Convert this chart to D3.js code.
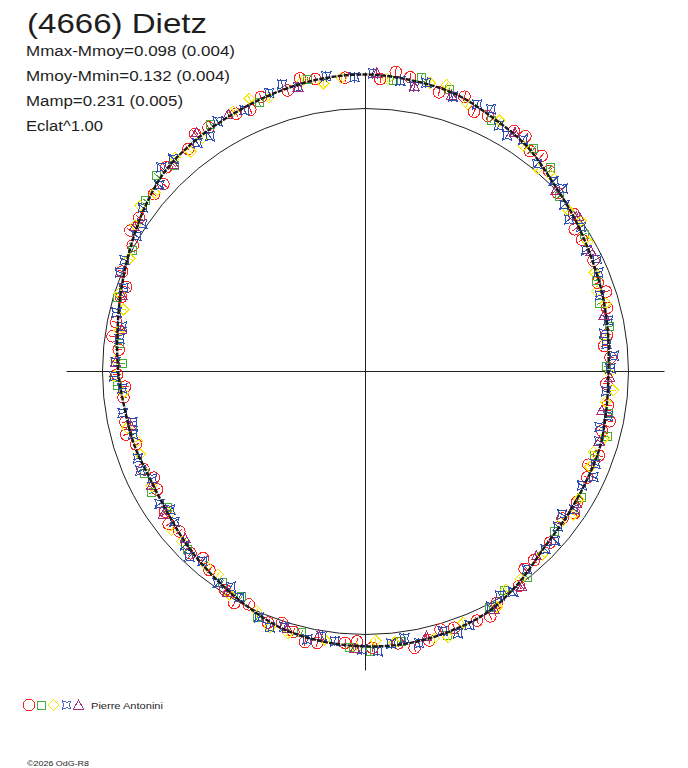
<!DOCTYPE html>
<html>
<head>
<meta charset="utf-8">
<script src="https://cdn.jsdelivr.net/npm/d3@7"></script>
<style>
  body { margin: 0; background: #fff; }
  text { font-family: "Liberation Sans", Arial, sans-serif; fill: #1e1e1e; }
</style>
</head>
<body>
<svg id="chart" width="688" height="768"></svg>
<script>
// title and info lines
var title = "(4666) Dietz";
var infoLines = ["Mmax-Mmoy=0.098 (0.004)", "Mmoy-Mmin=0.132 (0.004)", "Mamp=0.231 (0.005)", "Eclat^1.00"];
var observer = "Pierre Antonini";
var footer = "\u00a92026 OdG-R8";

// fitted lightcurve, mag relative to mean, vs rotational phase
var fitPhase = [0.000, 0.025, 0.050, 0.075, 0.100, 0.125, 0.150, 0.175, 0.200, 0.225,
                0.250, 0.275, 0.300, 0.325, 0.350, 0.375, 0.400, 0.425, 0.450, 0.475,
                0.500, 0.525, 0.550, 0.575, 0.600, 0.625, 0.650, 0.675, 0.700, 0.725,
                0.750, 0.775, 0.800, 0.825, 0.850, 0.875, 0.900, 0.925, 0.950, 0.975];
var fitMag = [-0.132, -0.124, -0.112, -0.082, -0.055, -0.012, 0.017, 0.042, 0.059, 0.075,
              0.086, 0.082, 0.071, 0.070, 0.064, 0.050, 0.008, -0.028, -0.041, -0.049,
              -0.048, -0.042, -0.029, 0.001, 0.031, 0.057, 0.084, 0.096, 0.088, 0.083,
              0.067, 0.050, 0.024, -0.008, -0.046, -0.081, -0.095, -0.105, -0.117, -0.128];

// observations (one array pair per session)
var redPhase = [0.008, 0.024, 0.041, 0.055, 0.071, 0.088, 0.102, 0.118, 0.131, 0.147, 0.163, 0.178, 0.192, 0.209, 0.226, 0.241,
                0.258, 0.272, 0.289, 0.305, 0.321, 0.338, 0.352, 0.369, 0.384, 0.401, 0.418, 0.433, 0.447, 0.463, 0.481, 0.496,
                0.512, 0.528, 0.543, 0.559, 0.574, 0.591, 0.606, 0.622, 0.637, 0.653, 0.668, 0.684, 0.701, 0.717, 0.733, 0.748,
                0.764, 0.781, 0.797, 0.812, 0.829, 0.845, 0.861, 0.877, 0.893, 0.909, 0.926, 0.942, 0.957, 0.973, 0.989,
                0.016, 0.063, 0.095, 0.109, 0.155, 0.199, 0.233, 0.282, 0.313, 0.345, 0.392, 0.425, 0.455, 0.472, 0.505,
                0.535, 0.551, 0.582, 0.614, 0.645, 0.676, 0.709, 0.740, 0.772, 0.804, 0.836, 0.869, 0.901, 0.934, 0.965];
var redMag = [-0.117, -0.134, -0.101, -0.114, -0.081, -0.078, -0.048, -0.036, 0.003, 0.008, 0.040, 0.040, 0.061, 0.056, 0.080, 0.075,
              0.094, 0.078, 0.082, 0.063, 0.074, 0.061, 0.073, 0.048, 0.042, -0.003, -0.013, -0.040, -0.033, -0.054, -0.044, -0.054,
              -0.037, -0.051, -0.029, -0.026, 0.010, 0.014, 0.044, 0.045, 0.075, 0.078, 0.102, 0.088, 0.096, 0.075, 0.084, 0.062,
              0.065, 0.037, 0.032, 0.000, -0.007, -0.043, -0.052, -0.088, -0.085, -0.107, -0.100, -0.120, -0.112, -0.131, -0.123,
              -0.147, -0.074, -0.085, -0.062, 0.042, 0.040, 0.099, 0.059, 0.092, 0.045, 0.040, -0.048, -0.023, -0.070, -0.029,
              -0.057, -0.008, -0.013, 0.066, 0.059, 0.114, 0.066, 0.095, 0.032, 0.039, -0.045, -0.051, -0.115, -0.091, -0.144];

var greenPhase = [0.015, 0.046, 0.074, 0.103, 0.133, 0.161, 0.190, 0.221, 0.247, 0.277, 0.306, 0.334, 0.362, 0.394, 0.423, 0.452, 0.479,
                  0.509, 0.538, 0.566, 0.595, 0.625, 0.654, 0.681, 0.711, 0.741, 0.768, 0.796, 0.826, 0.855, 0.881, 0.911, 0.940, 0.969,
                  0.030, 0.117, 0.205, 0.292, 0.410, 0.497, 0.580, 0.668, 0.755, 0.870];
var greenMag = [-0.115, -0.123, -0.071, -0.064, 0.008, 0.018, 0.064, 0.063, 0.096, 0.071, 0.084, 0.057, 0.067, 0.006, -0.015, -0.053, -0.037,
                -0.056, -0.024, -0.022, 0.035, 0.046, 0.098, 0.084, 0.097, 0.061, 0.065, 0.017, 0.002, -0.063, -0.073, -0.111, -0.102, -0.133,
                -0.142, -0.051, 0.082, 0.054, 0.013, -0.068, 0.027, 0.073, 0.086, -0.094];

var yellowPhase = [0.012, 0.035, 0.058, 0.078, 0.097, 0.121, 0.143, 0.166, 0.185, 0.206, 0.229, 0.251, 0.270, 0.293, 0.314, 0.336,
                   0.355, 0.378, 0.398, 0.419, 0.441, 0.460, 0.483, 0.505, 0.524, 0.546, 0.568, 0.587, 0.609, 0.631, 0.650, 0.672,
                   0.694, 0.713, 0.736, 0.757, 0.776, 0.799, 0.821, 0.840, 0.862, 0.884, 0.903, 0.925, 0.946, 0.966, 0.987,
                   0.044, 0.112, 0.153, 0.197, 0.262, 0.304, 0.346, 0.409, 0.452, 0.494, 0.557, 0.600, 0.641, 0.703, 0.747,
                   0.790, 0.851, 0.893, 0.936, 0.977];
var yellowMag = [-0.119, -0.127, -0.092, -0.085, -0.050, -0.028, 0.016, 0.023, 0.057, 0.056, 0.087, 0.081, 0.090, 0.065, 0.081, 0.061,
                 0.069, 0.035, 0.017, -0.027, -0.027, -0.051, -0.039, -0.056, -0.034, -0.041, 0.000, 0.007, 0.050, 0.054, 0.092, 0.087,
                 0.100, 0.078, 0.085, 0.052, 0.057, 0.019, 0.006, -0.039, -0.053, -0.093, -0.087, -0.113, -0.108, -0.133, -0.122,
                 -0.135, -0.012, 0.000, 0.077, 0.062, 0.091, 0.045, 0.015, -0.062, -0.026, -0.041, 0.051, 0.052, 0.107, 0.049,
                 0.056, -0.067, -0.071, -0.130, -0.110];

var bluePhase = [0.004, 0.019, 0.033, 0.049, 0.063, 0.079, 0.095, 0.110, 0.124, 0.139, 0.156, 0.170, 0.186, 0.200, 0.217, 0.232,
                 0.248, 0.263, 0.279, 0.296, 0.311, 0.327, 0.343, 0.358, 0.374, 0.391, 0.406, 0.422, 0.438, 0.454, 0.469, 0.485,
                 0.502, 0.518, 0.534, 0.549, 0.565, 0.581, 0.597, 0.613, 0.628, 0.644, 0.659, 0.676, 0.692, 0.708, 0.723, 0.739,
                 0.756, 0.771, 0.787, 0.803, 0.819, 0.835, 0.851, 0.867, 0.883, 0.899, 0.915, 0.931, 0.947, 0.963, 0.979, 0.994,
                 0.027, 0.071, 0.086, 0.131, 0.148, 0.178, 0.225, 0.240, 0.287, 0.319, 0.350, 0.366, 0.414, 0.446, 0.477,
                 0.493, 0.526, 0.557, 0.589, 0.621, 0.652, 0.684, 0.716, 0.747, 0.779, 0.811, 0.843, 0.875, 0.907, 0.955];
var blueMag = [-0.137, -0.116, -0.125, -0.100, -0.104, -0.067, -0.069, -0.026, -0.020, 0.015, 0.015, 0.047, 0.042, 0.071, 0.064, 0.088,
               0.077, 0.093, 0.070, 0.084, 0.064, 0.079, 0.054, 0.068, 0.042, 0.033, -0.009, -0.015, -0.045, -0.031, -0.056, -0.042,
               -0.060, -0.035, -0.045, -0.020, -0.020, 0.019, 0.020, 0.055, 0.051, 0.086, 0.078, 0.105, 0.083, 0.096, 0.071, 0.082,
               0.054, 0.063, 0.030, 0.029, -0.010, -0.012, -0.055, -0.060, -0.094, -0.082, -0.108, -0.098, -0.124, -0.114, -0.135, -0.123,
               -0.103, -0.109, -0.050, -0.025, 0.037, 0.024, 0.093, 0.060, 0.097, 0.050, 0.086, 0.037, 0.008, -0.059, -0.027,
               -0.068, -0.022, -0.041, 0.038, 0.031, 0.103, 0.073, 0.107, 0.049, 0.066, -0.008, -0.019, -0.101, -0.076, -0.139];

var purplePhase = [0.006, 0.048, 0.089, 0.129, 0.172, 0.213, 0.254, 0.296, 0.339, 0.381, 0.421, 0.464,
                   0.506, 0.547, 0.589, 0.631, 0.672, 0.714, 0.756, 0.798, 0.839, 0.881, 0.922, 0.963,
                   0.027, 0.150, 0.276, 0.400, 0.528, 0.652, 0.777, 0.902];
var purpleMag = [-0.138, -0.104, -0.074, 0.003, 0.031, 0.076, 0.079, 0.081, 0.060, 0.049, -0.030, -0.035,
                 -0.056, -0.023, 0.011, 0.073, 0.087, 0.095, 0.054, 0.034, -0.039, -0.075, -0.112, -0.114,
                 -0.103, -0.003, 0.102, -0.012, -0.020, 0.065, 0.068, -0.116];

// typical error of each session (mag)
var seriesErr = [0.016, 0.012, 0.012, 0.020, 0.012];

var W = 688, H = 768;
var cx = 365.5, cy = 371.5;
var R0 = 263;

var svg = d3.select("#chart");

// flux (1 = mean) -> radius
var r = d3.scaleLinear().domain([0, 1]).range([0, R0]);
function magToR(m) { return r(Math.pow(10, -0.4 * m)); }
function ang(p) { return p * 2 * Math.PI; }

var g = svg.append("g").attr("transform", "translate(" + cx + "," + cy + ")");

// mean circle and axes
g.append("circle").attr("r", R0).attr("fill", "none").attr("stroke", "#222").attr("stroke-width", 1);
var axLen = magToR(-0.132) + 2;
g.append("line").attr("x1", -axLen).attr("x2", axLen).attr("y1", 0).attr("y2", 0)
  .attr("stroke", "#222").attr("stroke-width", 1);
g.append("line").attr("y1", -axLen).attr("y2", axLen).attr("x1", 0).attr("x2", 0)
  .attr("stroke", "#222").attr("stroke-width", 1);

// marker shapes
var shapes = {
  circle: d3.symbol().type(d3.symbolCircle).size(Math.PI * 5.8 * 5.8)(),
  square: "M-4,-4H4V4H-4Z",
  diamond: "M0,-5.5L5.5,0L0,5.5L-5.5,0Z",
  star: "M-5,-5Q0,-1.8 5,-5Q1.8,0 5,5Q0,1.8 -5,5Q-1.8,0 -5,-5Z",
  triangle: "M0,-5L5,4H-5Z"
};

var series = [
  { phase: redPhase, mag: redMag, color: "#ff2020", shape: "circle" },
  { phase: greenPhase, mag: greenMag, color: "#48ad38", shape: "square" },
  { phase: yellowPhase, mag: yellowMag, color: "#f6e800", shape: "diamond" },
  { phase: bluePhase, mag: blueMag, color: "#2f4fb2", shape: "star" },
  { phase: purplePhase, mag: purpleMag, color: "#a32c7c", shape: "triangle" }
];

var marks = g.append("g").attr("shape-rendering", "crispEdges");

series.forEach(function(s, si) {
  var pts = s.phase.map(function(p, i) { return { p: p, m: s.mag[i], e: seriesErr[si] }; });
  var sg = marks.append("g").attr("class", "series-" + s.shape);

  // error bars along the radius
  sg.selectAll("line.err")
    .data(pts)
    .enter()
    .append("line")
    .attr("class", "err")
    .attr("x1", function(d) { return d3.pointRadial(ang(d.p), magToR(d.m - d.e))[0]; })
    .attr("y1", function(d) { return d3.pointRadial(ang(d.p), magToR(d.m - d.e))[1]; })
    .attr("x2", function(d) { return d3.pointRadial(ang(d.p), magToR(d.m + d.e))[0]; })
    .attr("y2", function(d) { return d3.pointRadial(ang(d.p), magToR(d.m + d.e))[1]; })
    .attr("stroke", s.color)
    .attr("stroke-width", 1);

  sg.selectAll("path.mk")
    .data(pts)
    .enter()
    .append("path")
    .attr("class", "mk")
    .attr("d", shapes[s.shape])
    .attr("transform", function(d) {
      var xy = d3.pointRadial(ang(d.p), magToR(d.m));
      return "translate(" + xy[0] + "," + xy[1] + ")";
    })
    .attr("fill", "none")
    .attr("stroke", s.color)
    .attr("stroke-width", 1);
});

// fitted curve on top
var fitData = fitPhase.map(function(p, i) { return [p, fitMag[i]]; });
var radial = d3.lineRadial()
  .angle(function(d) { return ang(d[0]); })
  .radius(function(d) { return magToR(d[1]); })
  .curve(d3.curveCatmullRomClosed);
g.append("path")
  .datum(fitData)
  .attr("d", radial)
  .attr("fill", "none")
  .attr("stroke", "#1a1a1a")
  .attr("stroke-width", 2.4)
  .attr("stroke-dasharray", "5 1.2");

// texts
svg.append("text").attr("x", 27).attr("y", 33).attr("font-size", 28)
  .attr("textLength", 180).attr("lengthAdjust", "spacingAndGlyphs").text(title);

var infoWidths = [209, 204, 157, 77];
svg.selectAll("text.info")
  .data(infoLines)
  .enter()
  .append("text")
  .attr("class", "info")
  .attr("x", 26)
  .attr("y", function(d, i) { return 56 + i * 25; })
  .attr("font-size", 14)
  .attr("textLength", function(d, i) { return infoWidths[i]; })
  .attr("lengthAdjust", "spacingAndGlyphs")
  .text(function(d) { return d; });

// legend
var legendX = [29, 41.5, 53.5, 66.5, 78.5];
var legend = svg.append("g").attr("shape-rendering", "crispEdges");
series.forEach(function(s, i) {
  legend.append("path")
    .attr("d", shapes[s.shape])
    .attr("transform", "translate(" + legendX[i] + ",705)" + (s.shape === "star" ? " scale(0.85)" : ""))
    .attr("fill", "none")
    .attr("stroke", s.color)
    .attr("stroke-width", 1);
});
svg.append("text").attr("x", 91).attr("y", 709).attr("font-size", 9)
  .attr("textLength", 72).attr("lengthAdjust", "spacingAndGlyphs").text(observer);

svg.append("text").attr("x", 27).attr("y", 766).attr("font-size", 8)
  .attr("textLength", 62).attr("lengthAdjust", "spacingAndGlyphs").text(footer);
</script>
</body>
</html>
